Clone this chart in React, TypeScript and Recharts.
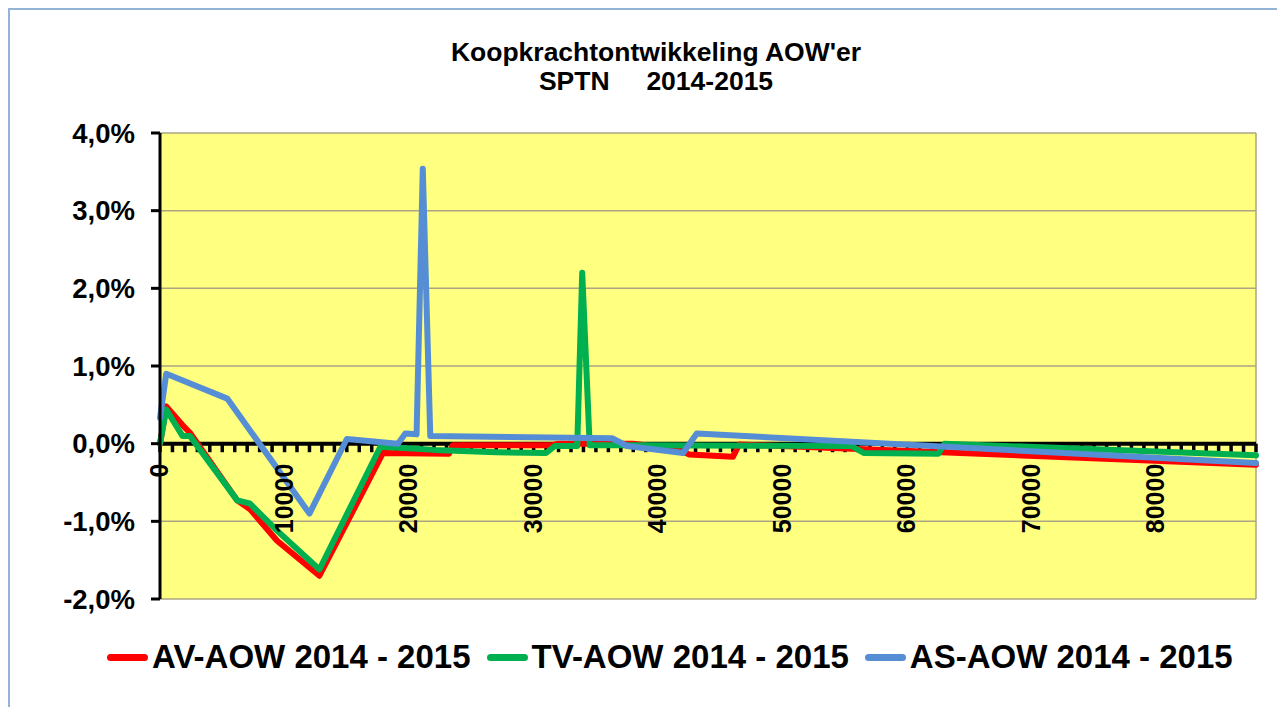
import { CartesianGrid, Line, LineChart, ReferenceDot, ReferenceLine, XAxis, YAxis } from "recharts";

// inkomen (x) en koopkrachtmutatie in % (y) per reeks
const avIncome = [0, 500, 1800, 2400, 6200, 7200, 9400, 12800, 17900, 23200, 23500, 31500, 32000, 38000, 41500, 42500, 46000, 46500, 88000];
const avChange = [0, 0.48, 0.24, 0.14, -0.73, -0.84, -1.25, -1.7, -0.12, -0.13, -0.02, -0.02, 0, 0, -0.07, -0.14, -0.17, -0.01, -0.27];

const tvIncome = [0, 500, 1800, 2400, 6200, 7200, 9400, 12800, 17700, 20000, 22000, 27000, 31000, 31700, 33500, 33900, 34500, 38000, 55500, 56500, 62500, 63000, 88000];
const tvChange = [0, 0.44, 0.1, 0.1, -0.73, -0.77, -1.12, -1.62, -0.04, -0.06, -0.08, -0.11, -0.12, -0.03, -0.03, 2.2, -0.02, -0.02, -0.03, -0.12, -0.13, 0, -0.15];

const asIncome = [0, 500, 5400, 12000, 15000, 19100, 19700, 20600, 21100, 21700, 36300, 37500, 42000, 43100, 88000];
const asChange = [0.33, 0.9, 0.58, -0.9, 0.06, 0, 0.13, 0.12, 3.54, 0.1, 0.07, -0.03, -0.12, 0.13, -0.25];

const seriesNames = ["AV-AOW 2014 - 2015", "TV-AOW 2014 - 2015", "AS-AOW 2014 - 2015"];
const seriesColors = ["#FF0000", "#00B050", "#558ED5"];

const yTicks = [-2, -1, 0, 1, 2, 3, 4];
const xLabels = [0, 10000, 20000, 30000, 40000, 50000, 60000, 70000, 80000];
const xMinorTicks = Array.from({ length: 89 }, (_, i) => i * 1000);

const FONT = "'Liberation Sans', Arial, sans-serif";

const toRows = (xs: number[], ys: number[]) => xs.map((x, i) => ({ x, v: ys[i] }));
const series = [toRows(avIncome, avChange), toRows(tvIncome, tvChange), toRows(asIncome, asChange)];

const pct = (v: number) => `${v.toFixed(1).replace(".", ",")}%`;

function XLabel(props: any) {
  const { cx, cy, value } = props;
  const y = cy + 20;
  return (
    <text
      x={cx - 1}
      y={y}
      transform={`rotate(-90 ${cx - 1} ${y})`}
      textAnchor="end"
      dominantBaseline="central"
      fontFamily={FONT}
      fontWeight="bold"
      fontSize={25}
      fill="#000"
    >
      {value}
    </text>
  );
}

export default function App() {
  return (
    <div style={{ width: 1277, height: 699, overflow: "hidden" }}>
      <div style={{ position: "relative", width: 1300, height: 720, border: "2px solid #95B3D7", background: "#fff", fontFamily: FONT }}>
        <div
          style={{
            position: "absolute", left: 0, top: 28, width: 1292, textAlign: "center",
            fontSize: 26.5, fontWeight: "bold", lineHeight: "29px", whiteSpace: "pre", color: "#000",
          }}
        >
          {"Koopkrachtontwikkeling AOW'er\nSPTN     2014-2015"}
        </div>

        <div style={{ position: "absolute", left: 0, top: 0 }}>
          <LineChart width={1280} height={680} margin={{ top: 123, right: 34, bottom: 91, left: 0 }}>
            <CartesianGrid vertical={false} fill="#FFFF80" fillOpacity={1} stroke="#ABA584" strokeWidth={1.5} />
            <XAxis type="number" dataKey="x" domain={[0, 88000]} hide />
            <YAxis
              type="number"
              domain={[-2, 4]}
              ticks={yTicks}
              width={150}
              tickFormatter={pct}
              axisLine={{ stroke: "#000", strokeWidth: 3 }}
              tickLine={{ stroke: "#000", strokeWidth: 3 }}
              tickSize={9}
              tickMargin={16}
              tick={{ fill: "#000", fontSize: 27.5, fontWeight: "bold", fontFamily: FONT }}
            />
            <ReferenceLine x={88000} stroke="#ABA584" strokeWidth={1.5} />
            <ReferenceLine y={0} stroke="#000" strokeWidth={4} />
            {xMinorTicks.map((t) => (
              <ReferenceLine
                key={`t${t}`}
                segment={[{ x: t, y: 0 }, { x: t, y: -0.11 }]}
                stroke="#000"
                strokeWidth={3.5}
              />
            ))}
            {xLabels.map((t) => (
              <ReferenceDot key={`l${t}`} x={t} y={0} r={1} shape={(p: any) => <XLabel {...p} value={t} />} />
            ))}
            {series.map((rows, i) => (
              <Line
                key={seriesNames[i]}
                data={rows}
                dataKey="v"
                name={seriesNames[i]}
                type="linear"
                stroke={seriesColors[i]}
                strokeWidth={6}
                strokeLinejoin="round"
                strokeLinecap="round"
                dot={false}
                activeDot={false}
                isAnimationActive={false}
              />
            ))}
          </LineChart>
        </div>

        <div
          style={{
            position: "absolute", left: 97, top: 627, height: 40, display: "flex", alignItems: "center",
            fontSize: 33, fontWeight: "bold", color: "#000", whiteSpace: "pre",
          }}
        >
          {seriesNames.map((n, i) => (
            <div key={n} style={{ display: "flex", alignItems: "center", marginRight: 16 }}>
              <span style={{ display: "inline-block", width: 41, height: 7, borderRadius: 4, background: seriesColors[i], marginRight: 4 }} />
              <span>{n}</span>
            </div>
          ))}
        </div>
      </div>
    </div>
  );
}
